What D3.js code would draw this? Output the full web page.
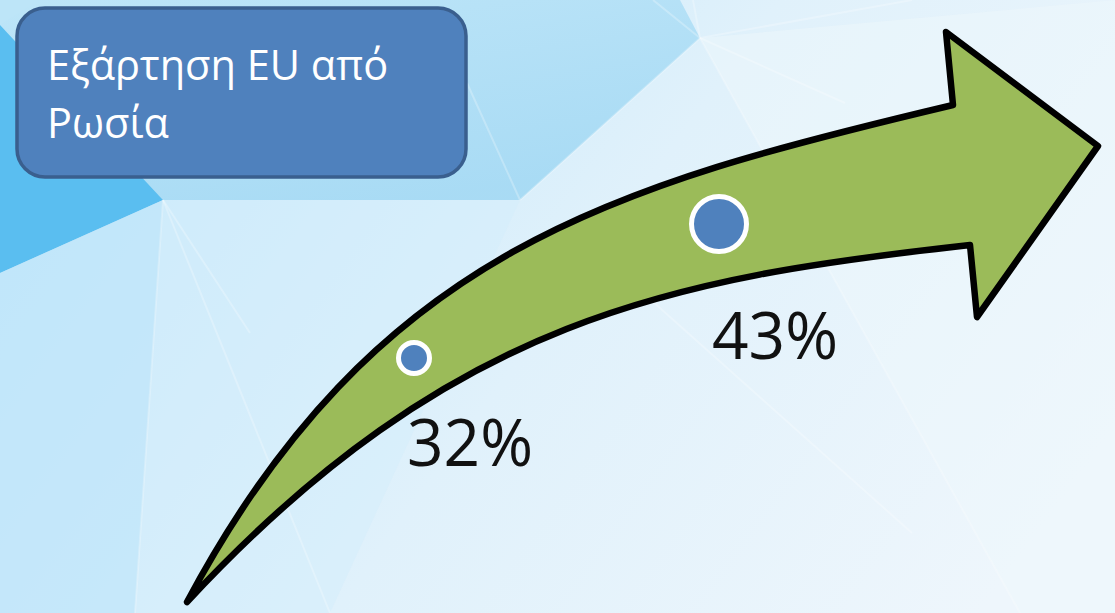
<!DOCTYPE html>
<html>
<head>
<meta charset="utf-8">
<script src="https://cdn.jsdelivr.net/npm/d3@7"></script>
<style>
  html, body { margin: 0; padding: 0; background: #e6f3fb; }
  svg { display: block; }
</style>
</head>
<body>
<div id="chart"></div>
<script>
// ---- data ----
const labels = ["32%", "43%"];
const values = [32, 43];
const titleLines = ["Εξάρτηση EU από", "Ρωσία"];

// ---- layout ----
const W = 1115, H = 613;
const svg = d3.select("#chart").append("svg").attr("width", W).attr("height", H);
const defs = svg.append("defs");

// background gradient
const bg = defs.append("linearGradient").attr("id", "bg")
  .attr("x1", "0").attr("y1", "0.3").attr("x2", "1").attr("y2", "0.7");
bg.append("stop").attr("offset", "0").attr("stop-color", "#c3e7fa");
bg.append("stop").attr("offset", "0.5").attr("stop-color", "#e0f1fb");
bg.append("stop").attr("offset", "1").attr("stop-color", "#eef6fc");
svg.append("rect").attr("width", W).attr("height", H).attr("fill", "url(#bg)");

const mid = defs.append("linearGradient").attr("id", "mid")
  .attr("x1", "0").attr("y1", "0").attr("x2", "0.6").attr("y2", "1");
mid.append("stop").attr("offset", "0").attr("stop-color", "#bde5f8");
mid.append("stop").attr("offset", "1").attr("stop-color", "#a6daf4");

const facets = [
  { pts: [[0,0],[680,0],[700,38],[520,200],[163,200],[0,25]], fill: "url(#mid)", op: 0.95 },
  { pts: [[0,25],[163,200],[0,273]], fill: "#5abef0", op: 1 },
  { pts: [[0,273],[163,200],[135,613],[0,613]], fill: "#bfe6fa", op: 0.7 },
  { pts: [[163,200],[520,200],[330,613],[135,613]], fill: "#d3eefb", op: 0.5 },
  { pts: [[700,38],[1115,0],[1115,613],[1020,613]], fill: "#eef7fc", op: 0.5 },
  { pts: [[0,0],[40,0],[0,25]], fill: "#bde5f8", op: 1 }
];
svg.append("g").selectAll("polygon").data(facets).join("polygon")
  .attr("points", d => d.pts.map(p => p.join(",")).join(" "))
  .attr("fill", d => d.fill).attr("fill-opacity", d => d.op);

const streaks = [
  [[163,200],[135,613]], [[163,200],[330,613]], [[163,200],[250,333]],
  [[700,38],[653,0]], [[700,38],[693,0]], [[700,38],[520,200]],
  [[700,38],[1020,613]], [[700,38],[845,103]], [[700,38],[912,0]],
  [[651,300],[912,533]], [[467,83],[520,200]]
];
svg.append("g").selectAll("line").data(streaks).join("line")
  .attr("x1", d => d[0][0]).attr("y1", d => d[0][1])
  .attr("x2", d => d[1][0]).attr("y2", d => d[1][1])
  .attr("stroke", "#ffffff").attr("stroke-opacity", 0.25).attr("stroke-width", 2);

// ---- arrow (decorative shape) ----
const tail = [187, 602];
const upperCtrl = [[375,250],[613.5,185.5],[953,105]];
const head = [[946,32],[1098,146],[977,317],[970,245]];
const lowerCtrl = [[673,278],[452,317],[187,602]];
const ap = d3.path();
ap.moveTo(...tail);
ap.bezierCurveTo(...upperCtrl[0], ...upperCtrl[1], ...upperCtrl[2]);
head.forEach(p => ap.lineTo(...p));
ap.bezierCurveTo(...lowerCtrl[0], ...lowerCtrl[1], ...lowerCtrl[2]);
ap.closePath();
svg.append("path").attr("d", ap.toString())
  .attr("fill", "#9bbb59").attr("stroke", "#000").attr("stroke-width", 6.5)
  .attr("stroke-linejoin", "round");

// ---- title box ----
svg.append("rect").attr("x", 17).attr("y", 8).attr("width", 449).attr("height", 169)
  .attr("rx", 28).attr("ry", 28)
  .attr("fill", "#4f81bd").attr("stroke", "#3a5f8e").attr("stroke-width", 3.5);
svg.append("text").attr("x", 47).attr("y", 80)
  .attr("font-family", "'Open Sans', sans-serif").attr("font-size", 41.5).attr("fill", "#fff")
  .selectAll("tspan").data(titleLines).join("tspan")
  .attr("x", 47).attr("dy", (d, i) => i === 0 ? 0 : 58).text(d => d);

// ---- marks ----
const x = d3.scalePoint().domain(labels).range([414, 719]);
const y = d3.scaleLinear().domain([32, 43]).range([358, 224]);
const r = d3.scaleLinear().domain([32, 43]).range([15.5, 27.5]);
const labelY = d3.scaleLinear().domain([32, 43]).range([466, 359]);

const pts = labels.map((l, i) => ({ label: l, value: values[i] }));
svg.append("g").selectAll("circle").data(pts).join("circle")
  .attr("cx", d => x(d.label)).attr("cy", d => y(d.value)).attr("r", d => r(d.value))
  .attr("fill", "#4f81bd").attr("stroke", "#fff").attr("stroke-width", 5);

svg.append("g").selectAll("text").data(pts).join("text")
  .attr("x", d => x(d.label) - 7).attr("y", d => labelY(d.value))
  .attr("font-family", "'Open Sans', sans-serif").attr("font-size", 66).attr("fill", "#111")
  .attr("textLength", 126).attr("lengthAdjust", "spacingAndGlyphs")
  .text(d => d.label);
</script>
</body>
</html>
